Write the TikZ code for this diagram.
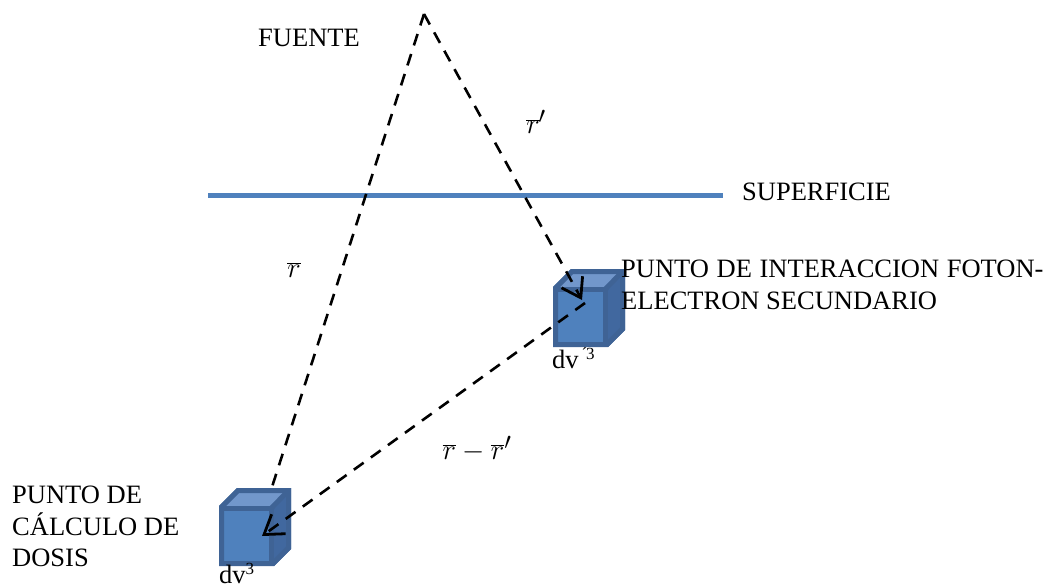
\documentclass[tikz,border=0pt]{standalone}
\usepackage{fontspec}
\setmainfont{Liberation Serif}
\usetikzlibrary{arrows.meta}
\definecolor{cubeline}{HTML}{3F6395}
\definecolor{cubefront}{HTML}{4F81BD}
\definecolor{cubetop}{HTML}{7297CB}
\definecolor{cubeside}{HTML}{41689F}
\tikzset{
  x=1pt,y=-1pt,
  lab/.style={font=\fontsize{26.5}{31}\selectfont,inner sep=0pt,anchor=base west,align=left},
  small/.style={font=\fontsize{26.5}{29}\selectfont,inner sep=0pt,anchor=base west},
  mathlab/.style={font=\fontsize{24.88}{30}\selectfont,inner sep=0pt,anchor=center,scale=1.15,transform shape},
  ray/.style={line width=2.6pt,dash pattern=on 12pt off 9pt},
  raytip/.style={ray,-{Straight Barb[length=18pt,width=24pt,line width=2.8pt]}},
  surf/.style={line width=5pt,color=cubefront},
  cubeedge/.style={line width=5pt,draw=cubeline,line join=miter}
}
\newcommand{\cubeat}[2]{%
  \begin{scope}[shift={(#1,#2)}]
    \fill[cubefront] (0,18) rectangle (55,78);
    \fill[cubetop] (0,18) -- (18,0) -- (72,0) -- (55,18) -- cycle;
    \fill[cubeside] (55,18) -- (72,0) -- (72,61) -- (55,78) -- cycle;
    \draw[cubeedge] (2.5,19) -- (19,2.5) -- (69.5,2.5) -- (69.5,60) -- (54,75.5) -- (2.5,75.5) -- cycle;
    \draw[cubeedge] (2.5,20) -- (52.5,20) -- (52.5,75.5);
    \draw[cubeedge] (52.5,20) -- (69.5,2.5);
  \end{scope}}
\begin{document}
\begin{tikzpicture}
\useasboundingbox (0,0) rectangle (1045,584);
\cubeat{553}{269}
\cubeat{219}{488}
\coordinate (apex) at (424,14);
\coordinate (surfa) at (208,195);
\coordinate (surfb) at (723,195);
\coordinate (p1) at (582,300);
\coordinate (p1s) at (585,303);
\coordinate (p2top) at (272,487);
\coordinate (p2) at (262,536);
\draw[surf] (surfa) -- (surfb);
\draw[ray] (apex) -- (p2top);
\draw[raytip] (apex) -- (p1);
\draw[raytip] (p1s) -- (p2);
\node[lab] (fuente) at (258,46) {FUENTE};
\node[lab] (superficie) at (742,200) {SUPERFICIE};
\node[lab] (interaccion1) at (621,277) {PUNTO\hspace{1pt} DE\hspace{1pt} INTERACCION\hspace{1pt} FOTON-};
\node[lab] (interaccion2) at (621,309) {ELECTRON SECUNDARIO};
\node[lab] (calculo1) at (12,503) {PUNTO DE};
\node[lab] (calculo2) at (12,535) {CÁLCULO DE};
\node[lab] (calculo3) at (12,566) {DOSIS};
\node[small] (dv1) at (552,368) {dv\raisebox{9pt}{\fontsize{17}{17}\selectfont\,´\kern-1pt 3}};
\node[small] (dv2) at (219,583) {dv\raisebox{9pt}{\fontsize{17}{17}\selectfont 3}};
\node[mathlab] (rp) at (536,122) {$\overline{r}\kern-1pt{}^{\prime}$};
\node[mathlab] (r) at (294,270) {$\overline{r}$};
\node[mathlab] (rmr) at (477,449) {$\overline{r}-\overline{r}{}^{\prime}$};
\end{tikzpicture}
\end{document}
